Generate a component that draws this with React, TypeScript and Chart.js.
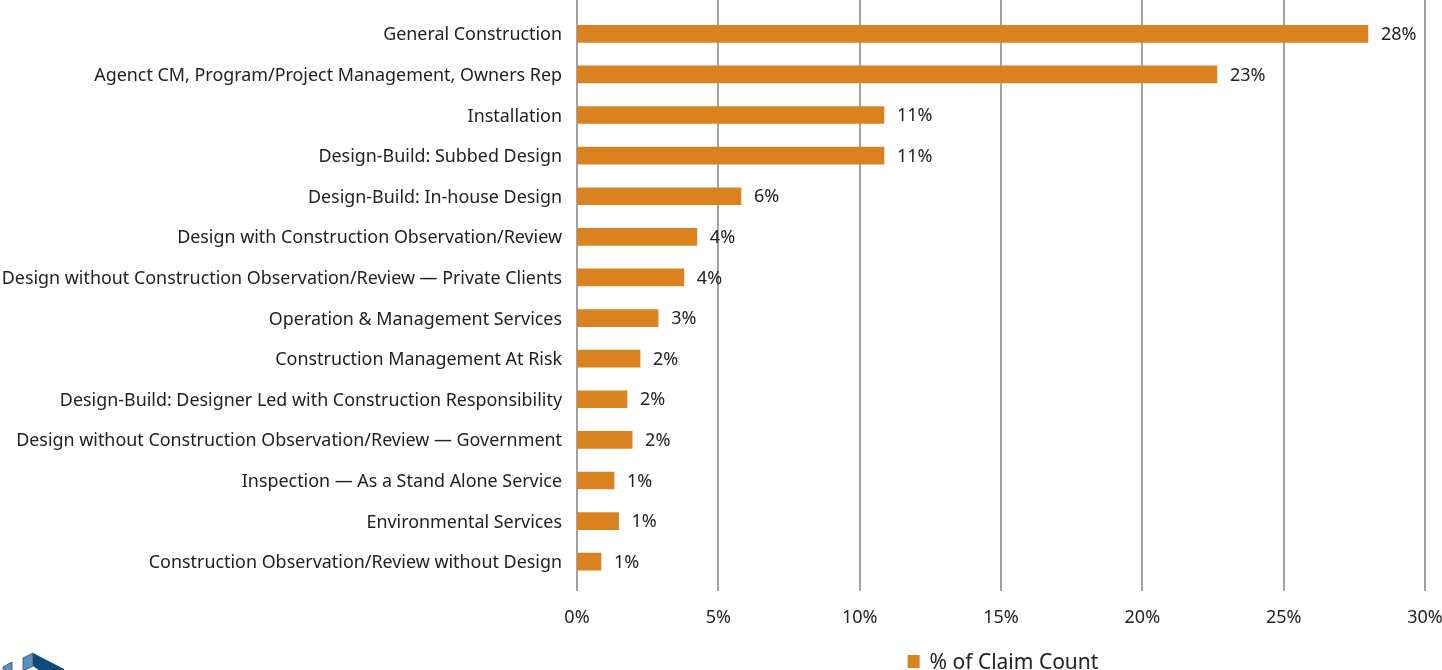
import React, { useEffect, useRef } from "react";
import { Chart, registerables } from "chart.js";

Chart.register(...registerables);

const categories = [
  "General Construction",
  "Agenct CM, Program/Project Management, Owners Rep",
  "Installation",
  "Design-Build: Subbed Design",
  "Design-Build: In-house Design",
  "Design with Construction Observation/Review",
  "Design without Construction Observation/Review — Private Clients",
  "Operation & Management Services",
  "Construction Management At Risk",
  "Design-Build: Designer Led with Construction Responsibility",
  "Design without Construction Observation/Review — Government",
  "Inspection — As a Stand Alone Service",
  "Environmental Services",
  "Construction Observation/Review without Design",
];

const claimShare = [27.98, 22.64, 10.86, 10.86, 5.8, 4.24, 3.78, 2.87, 2.23, 1.77, 1.95, 1.31, 1.47, 0.85];

const xTicks = [0, 5, 10, 15, 20, 25, 30];
const seriesName = "% of Claim Count";

const FONT = "'Noto Sans', sans-serif";
const BAR = "#DB8220";
const TEXT = "#222222";
const GRID = "#858585";

const gridPlugin = {
  id: "customGrid",
  beforeDatasetsDraw(chart: any) {
    const { ctx, scales } = chart;
    const xs = scales.x;
    ctx.save();
    ctx.strokeStyle = GRID;
    ctx.lineWidth = 1.5;
    xTicks.forEach((v) => {
      const x = Math.round(xs.getPixelForValue(v));
      ctx.beginPath();
      ctx.moveTo(x, 0);
      ctx.lineTo(x, 591);
      ctx.stroke();
    });
    ctx.restore();
  },
};

const labelPlugin = {
  id: "valueLabels",
  afterDatasetsDraw(chart: any) {
    const { ctx } = chart;
    const meta = chart.getDatasetMeta(0);
    ctx.save();
    ctx.font = `18px ${FONT}`;
    ctx.fillStyle = TEXT;
    ctx.textAlign = "left";
    ctx.textBaseline = "middle";
    meta.data.forEach((bar: any, i: number) => {
      ctx.fillText(`${Math.round(claimShare[i])}%`, bar.x + 13, bar.y + 1);
    });
    ctx.restore();
  },
};

const legendPlugin = {
  id: "customLegend",
  afterDraw(chart: any) {
    const { ctx, chartArea } = chart;
    ctx.save();
    ctx.font = `21px ${FONT}`;
    const w = ctx.measureText(seriesName).width;
    const total = 12 + 10 + w;
    const cx = (chartArea.left + chartArea.right) / 2 + 2;
    const x0 = cx - total / 2;
    ctx.fillStyle = BAR;
    ctx.fillRect(x0, 655, 12, 13);
    ctx.fillStyle = TEXT;
    ctx.textAlign = "left";
    ctx.textBaseline = "alphabetic";
    ctx.fillText(seriesName, x0 + 22, 669);
    ctx.restore();
  },
};

const logoPlugin = {
  id: "logo",
  afterDraw(chart: any) {
    const { ctx } = chart;
    ctx.save();
    ctx.fillStyle = "#5b8fc0";
    ctx.strokeStyle = "#2a4a6a";
    ctx.lineWidth = 0.8;
    ctx.beginPath();
    ctx.moveTo(3, 667);
    ctx.lineTo(12, 662);
    ctx.lineTo(12, 671);
    ctx.lineTo(3, 671);
    ctx.closePath();
    ctx.fill();
    ctx.stroke();
    ctx.beginPath();
    ctx.moveTo(23, 658);
    ctx.lineTo(33, 653);
    ctx.lineTo(33, 666);
    ctx.lineTo(23, 671);
    ctx.closePath();
    ctx.fill();
    ctx.stroke();
    ctx.fillStyle = "#0f4a7a";
    ctx.beginPath();
    ctx.moveTo(33, 653);
    ctx.lineTo(64, 669);
    ctx.lineTo(64, 671);
    ctx.lineTo(40, 671);
    ctx.lineTo(33, 666);
    ctx.closePath();
    ctx.fill();
    ctx.restore();
  },
};

export default function App() {
  const ref = useRef<HTMLCanvasElement>(null);
  useEffect(() => {
    document.body.style.margin = "0";
    const chart = new Chart(ref.current as HTMLCanvasElement, {
      type: "bar",
      data: {
        labels: categories,
        datasets: [
          {
            label: seriesName,
            data: claimShare,
            backgroundColor: BAR,
            barThickness: 17,
          },
        ],
      },
      options: {
        indexAxis: "y",
        responsive: false,
        animation: false,
        layout: { padding: { top: 13.5, right: 17, left: 0, bottom: 0 } },
        plugins: { legend: { display: false }, tooltip: { enabled: false } },
        scales: {
          x: {
            min: 0,
            max: 30,
            afterBuildTicks: (s: any) => {
              s.ticks = xTicks.map((v) => ({ value: v }));
            },
            afterFit: (s: any) => {
              s.height = 88;
              s.paddingLeft = 0;
              s.paddingRight = 0;
            },
            grid: { display: false },
            border: { display: false },
            ticks: {
              padding: 17,
              color: TEXT,
              font: { family: FONT, size: 18 },
              maxRotation: 0,
              callback: (v: any) => `${v}%`,
            },
          },
          y: {
            afterFit: (s: any) => {
              s.width = 577;
              s.paddingTop = 0;
              s.paddingBottom = 0;
            },
            grid: { display: false },
            border: { display: false },
            ticks: {
              padding: 7,
              labelOffset: 1.5,
              color: TEXT,
              font: { family: FONT, size: 17.9 },
              autoSkip: false,
            },
          },
        },
      },
      plugins: [gridPlugin, labelPlugin, legendPlugin, logoPlugin],
    });
    return () => chart.destroy();
  }, []);
  return (
    <div style={{ width: 1442, height: 670 }}>
      <canvas ref={ref} width={1442} height={670} />
    </div>
  );
}
